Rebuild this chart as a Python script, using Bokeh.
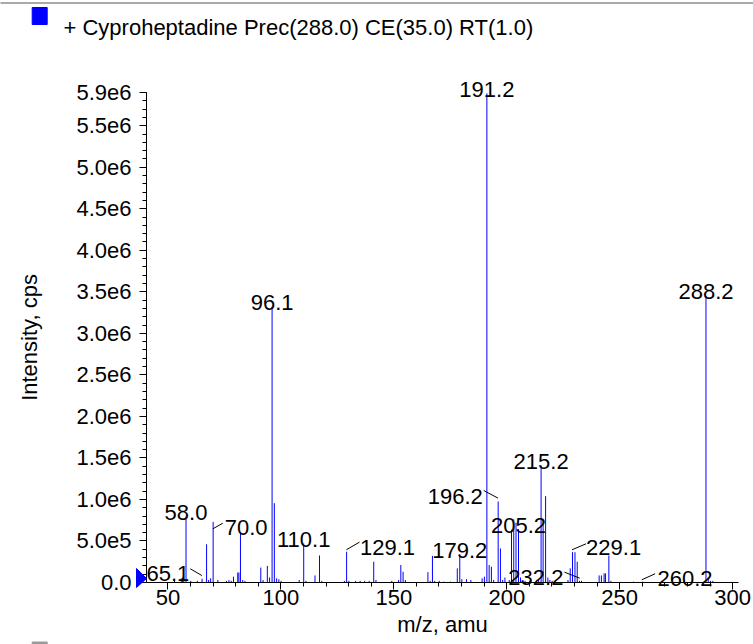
from bokeh.plotting import figure
from bokeh.models import Range1d, FixedTicker, ColumnDataSource
from bokeh.core.properties import value
from bokeh.embed import file_html
from bokeh.resources import INLINE

# ---------------- data ----------------
title_text = "+ Cyproheptadine Prec(288.0) CE(35.0) RT(1.0)"
x_axis_title = "m/z, amu"
y_axis_title = "Intensity, cps"

peak_mz = [52.9, 55.9, 56.4, 57.0, 58.0, 60.1, 63.0, 65.1, 67.1, 68.0, 68.9, 70.0, 72.1,
           75.9, 77.0, 78.0, 79.0, 80.9, 81.4, 82.1, 83.1, 84.1, 91.1, 92.1, 94.0, 95.0,
           96.1, 97.1, 98.1, 99.1, 100.1, 108.1, 110.1, 111.1, 115.1, 117.1, 118.1,
           128.1, 129.1, 130.1, 133.1, 135.1, 137.1, 139.1, 141.1, 142.1, 149.1, 152.1,
           153.1, 154.1, 155.1, 165.1, 166.1, 167.1, 168.1, 170.1, 172.1, 175.1, 178.1,
           179.2, 180.1, 182.2, 184.1, 189.1, 190.1, 191.2, 192.2, 193.2, 194.2, 196.2,
           197.2, 198.2, 199.2, 201.1, 202.1, 203.1, 204.1, 205.2, 206.1, 207.1, 208.1,
           210.1, 214.1, 215.2, 216.1, 217.2, 218.2, 219.1, 220.1, 227.1, 228.1, 229.1,
           230.2, 231.2, 232.2, 233.1, 240.9, 241.9, 243.1, 243.7, 245.2, 246.1, 256.1,
           260.2, 273.2, 288.2, 289.2, 290.2, 291.2]
peak_intensity = [0.03e6, 0.05e6, 0.06e6, 0.04e6, 0.79e6, 0.02e6, 0.02e6, 0.045e6, 0.46e6,
                  0.03e6, 0.05e6, 0.73e6, 0.03e6, 0.02e6, 0.03e6, 0.02e6, 0.07e6, 0.12e6,
                  0.12e6, 0.59e6, 0.03e6, 0.02e6, 0.18e6, 0.03e6, 0.20e6, 0.06e6, 3.32e6,
                  0.955e6, 0.05e6, 0.04e6, 0.02e6, 0.03e6, 0.47e6, 0.02e6, 0.085e6, 0.325e6,
                  0.02e6, 0.02e6, 0.37e6, 0.02e6, 0.02e6, 0.02e6, 0.02e6, 0.02e6, 0.25e6,
                  0.03e6, 0.02e6, 0.03e6, 0.21e6, 0.13e6, 0.03e6, 0.125e6, 0.02e6, 0.32e6,
                  0.02e6, 0.02e6, 0.01e6, 0.01e6, 0.17e6, 0.34e6, 0.04e6, 0.04e6, 0.03e6,
                  0.05e6, 0.07e6, 5.89e6, 0.21e6, 0.19e6, 0.03e6, 0.975e6, 0.41e6, 0.03e6,
                  0.06e6, 0.03e6, 0.635e6, 0.76e6, 0.72e6, 0.64e6, 0.06e6, 0.03e6, 0.02e6,
                  0.02e6, 0.03e6, 1.41e6, 0.75e6, 1.04e6, 0.06e6, 0.03e6, 0.02e6, 0.03e6,
                  0.17e6, 0.365e6, 0.365e6, 0.25e6, 0.02e6, 0.02e6, 0.085e6, 0.085e6,
                  0.11e6, 0.11e6, 0.325e6, 0.02e6, 0.01e6, 0.01e6, 0.01e6, 3.45e6, 0.06e6,
                  0.02e6, 0.02e6]

# labels sitting directly on top of their peak
direct_label_text = ["58.0", "96.1", "110.1", "179.2", "191.2", "205.2", "215.2", "288.2"]
direct_label_mz = [58.0, 96.1, 110.1, 179.2, 191.2, 205.2, 215.2, 288.2]

# labels moved aside, joined to their peak by a leader line
offset_label_text = ["65.1", "70.0", "129.1", "196.2", "229.1", "232.2", "260.2"]
offset_label_mz = [49.96, 84.6, 147.2, 177.2, 247.3, 212.9, 278.9]
offset_label_int = [0.108e6, 0.663e6, 0.42e6, 1.036e6, 0.425e6, 0.064e6, 0.045e6]
leader_x0 = [59.9, 69.9, 129.0, 189.8, 228.9, 225.6, 259.8]
leader_y0 = [0.165e6, 0.647e6, 0.394e6, 1.108e6, 0.394e6, 0.124e6, 0.033e6]
leader_x1 = [65.0, 74.3, 134.8, 196.1, 235.1, 232.3, 265.7]
leader_y1 = [0.084e6, 0.714e6, 0.486e6, 1.016e6, 0.466e6, 0.052e6, 0.105e6]

x_tick_values = [50, 100, 150, 200, 250, 300]
x_minor_ticks = list(range(50, 301, 10))
y_tick_values = [0.0, 5e5, 1e6, 1.5e6, 2e6, 2.5e6, 3e6, 3.5e6, 4e6, 4.5e6, 5e6, 5.5e6, 5.9e6]
y_tick_labels = ["0.0", "5.0e5", "1.0e6", "1.5e6", "2.0e6", "2.5e6", "3.0e6", "3.5e6",
                 "4.0e6", "4.5e6", "5.0e6", "5.5e6", "5.9e6"]
y_minor_ticks = [i * 1e5 for i in range(0, 60)]

x_start, x_end = 40.5, 302.6
y_start, y_end = 0.0, 5.9e6

FONT = "Liberation Sans"
FS = "22px"
BLUE = "#0000ff"

# ---------------- figure ----------------
W, H = 753, 644
LEFT, RIGHT, TOP, BOTTOM = 146, 15, 92, 62
p = figure(width=W, height=H, output_backend="svg", toolbar_location=None,
           x_range=Range1d(x_start, x_end), y_range=Range1d(y_start, y_end),
           min_border_left=LEFT, min_border_right=RIGHT,
           min_border_top=TOP, min_border_bottom=BOTTOM)
p.outline_line_color = None
p.xgrid.visible = False
p.ygrid.visible = False

# pixel size of one data unit, used to place decorations outside the frame
px_x = (W - LEFT - RIGHT) / (x_end - x_start)
px_y = (H - TOP - BOTTOM) / (y_end - y_start)


def dx(pixels):
    return pixels / px_x


def dy(pixels):
    return pixels / px_y


peaks = ColumnDataSource(dict(mz=peak_mz, intensity=peak_intensity,
                              base=[0.0] * len(peak_mz)))
p.segment(x0="mz", y0="base", x1="mz", y1="intensity", source=peaks,
          line_color=BLUE, line_width=1)

# leader lines
p.segment(x0=leader_x0, y0=leader_y0, x1=leader_x1, y1=leader_y1,
          line_color="black", line_width=1)

lookup = dict(zip(peak_mz, peak_intensity))
direct_src = ColumnDataSource(dict(x=direct_label_mz,
                                   y=[lookup[m] for m in direct_label_mz],
                                   t=direct_label_text))
p.text(x="x", y="y", text="t", source=direct_src, text_align="center",
       text_baseline="alphabetic", y_offset=-4, text_font=value(FONT),
       text_font_size=value(FS), text_color="black", level="overlay")
offset_src = ColumnDataSource(dict(x=offset_label_mz, y=offset_label_int, t=offset_label_text))
p.text(x="x", y="y", text="t", source=offset_src, text_align="center",
       text_baseline="alphabetic", text_font=value(FONT),
       text_font_size=value(FS), text_color="black", level="overlay")

# blue marker pointing at the origin of the y axis
p.patch(x=[x_start - dx(10), x_start, x_start - dx(10)],
        y=[y_start + dy(14), y_start + dy(4), y_start - dy(5)],
        fill_color=BLUE, line_color=BLUE, level="overlay")

# thin panel border along the top edge
p.segment(x0=[x_start - dx(LEFT)], x1=[x_end + dx(RIGHT)],
          y0=[y_end + dy(TOP - 2.5)], y1=[y_end + dy(TOP - 2.5)],
          line_color="#555555", line_width=1.2, level="overlay")

# series title with its colour key, above the plot
p.quad(left=[x_start - dx(LEFT - 31.7)], right=[x_start - dx(LEFT - 46.7)],
       top=[y_end + dy(TOP - 7)], bottom=[y_end + dy(TOP - 24)],
       fill_color=BLUE, line_color=BLUE, level="overlay")
p.text(x=[x_start - dx(LEFT - 63)], y=[y_end + dy(TOP - 26.7)], text=[title_text],
       text_align="left", text_baseline="alphabetic", text_font=value(FONT),
       text_font_size=value(FS), text_color="black", level="overlay")

# key of the next (cut off) series at the bottom edge
p.quad(left=[x_start - dx(LEFT - 31.7)], right=[x_start - dx(LEFT - 46.7)],
       top=[y_start - dy(641.5 - (H - BOTTOM))], bottom=[y_start - dy(BOTTOM)],
       fill_color="#9a9a9a", line_color="#9a9a9a", level="overlay")

# x axis title
p.text(x=[(x_start + x_end) / 2], y=[y_start - dy(42)], text=[x_axis_title],
       text_align="center", text_baseline="middle", text_font=value(FONT),
       text_font_size=value(FS), text_color="black", level="overlay")

# axes
for ax in (p.xaxis[0], p.yaxis[0]):
    ax.axis_line_color = "black"
    ax.axis_line_width = 1
    ax.major_tick_line_color = "black"
    ax.minor_tick_line_color = "black"
    ax.major_tick_in = 0
    ax.minor_tick_in = 0
    ax.major_tick_out = 7
    ax.minor_tick_out = 4
    ax.major_label_text_font = FONT
    ax.major_label_text_font_size = FS
    ax.major_label_text_color = "black"
    ax.axis_label_text_font = FONT
    ax.axis_label_text_font_size = FS
    ax.axis_label_text_font_style = "normal"
    ax.axis_label_text_color = "black"

p.xaxis.ticker = FixedTicker(ticks=x_tick_values, minor_ticks=x_minor_ticks)
p.xaxis.major_label_standoff = 0

p.yaxis.ticker = FixedTicker(ticks=y_tick_values, minor_ticks=y_minor_ticks)
p.yaxis.major_label_overrides = dict(zip(y_tick_values, y_tick_labels))
p.yaxis.axis_label = y_axis_title
p.yaxis.major_label_standoff = 8
p.yaxis.axis_label_standoff = 31

open("out.html", "w").write(file_html(p, INLINE))
